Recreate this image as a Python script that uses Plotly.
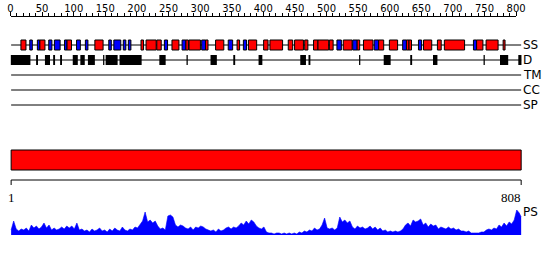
import plotly.graph_objects as go

SEQ_LEN = 808

# Secondary structure segments (H = helix red, E = strand blue)
ss_start = [17, 31, 43, 47, 61, 70, 86, 90, 105, 119, 134, 156, 164, 179, 187,
            207, 215, 232, 244, 256, 272, 278, 283, 303, 309, 325, 345, 359, 369, 377,
            401, 411, 440, 450, 466, 480, 487, 505, 517, 527, 542, 549, 559, 576, 583,
            600, 621, 627, 631, 646, 654, 676, 687, 733, 738, 753, 780]
ss_end = [24, 34, 46, 54, 65, 78, 89, 96, 110, 122, 146, 159, 174, 182, 190,
          210, 230, 238, 248, 266, 277, 281, 300, 308, 312, 337, 351, 362, 373, 389,
          407, 430, 446, 463, 470, 486, 503, 510, 523, 540, 548, 552, 573, 582, 590,
          612, 626, 630, 634, 650, 666, 681, 718, 737, 747, 771, 782]
ss_type = ["H", "E", "E", "H", "E", "E", "E", "H", "E", "E", "H", "E", "E", "E", "E",
           "H", "H", "H", "E", "H", "E", "H", "H", "E", "H", "H", "E", "H", "E", "H",
           "H", "H", "H", "H", "H", "H", "H", "H", "E", "H", "E", "H", "H", "E", "H",
           "H", "E", "H", "H", "E", "H", "H", "H", "E", "H", "H", "H"]

# Disordered segments
dis_start = [1, 41, 55, 68, 79, 99, 111, 123, 147, 151, 173, 236, 279, 317, 353,
             393, 459, 472, 552, 591, 633, 669, 749, 775, 804]
dis_end = [31, 43, 62, 70, 81, 106, 117, 133, 148, 169, 207, 245, 280, 326, 355,
           398, 467, 474, 553, 601, 635, 675, 750, 787, 808]

track_labels = ["SS", "D", "TM", "CC", "SP"]

# PS profile, sampled every 4 residues (1..805) plus the last residue
ps_val = [
    5, 14, 6, 4, 6, 5, 7, 4,
    10, 7, 9, 6, 8, 12, 7, 10,
    5, 7, 5, 6, 8, 6, 9, 7, 9, 6, 12, 5,
    6, 4, 5, 3, 6, 4, 5, 7, 4, 5, 3, 6, 4, 7, 5, 4, 8, 5, 4,
    6, 5, 8, 7, 11, 14, 23, 13, 15, 12, 14, 9, 6,
    7, 5, 19, 20, 18, 10, 8, 10, 9, 7, 6, 8,
    5, 8, 7, 9, 8, 6, 5, 4, 5, 3, 6, 4, 5, 7,
    8, 6, 8, 7, 9, 12, 10, 14, 11, 15, 13, 9, 7, 6, 8,
    3, 2, 2, 1, 2, 2, 1, 2, 1, 2, 1, 2, 1, 3, 2,
    4, 3, 5, 4, 7, 5, 6, 10, 17, 7, 6, 7, 5,
    7, 18, 13, 15, 12, 14, 8, 6, 9, 7, 8, 6,
    7, 9, 6, 8, 5, 7, 4, 5, 3, 4, 3, 4, 3, 4, 6,
    10, 12, 9, 15, 13, 14, 16, 10, 12, 8, 11, 9, 10, 6, 8, 7, 6,
    8, 6, 7, 5, 6, 4, 4, 3, 4, 2, 2, 2, 2, 3,
    3, 5, 6, 5, 7, 6, 10, 8, 12, 9, 13, 11, 15, 25, 22,
    18,
]
ps_pos = list(range(1, 806, 4)) + [SEQ_LEN]

ruler_max = 800

# ---- layout geometry ----
W, H = 550, 260
X0_PX, PX_PER_RES = 10.5, 0.632
xr = [-X0_PX / PX_PER_RES, (W - X0_PX) / PX_PER_RES]
row_y = {"SS": 45, "D": 60, "TM": 75, "CC": 90, "SP": 105}
ss_col = {"H": "#ff0000", "E": "#0000ff"}

fig = go.Figure()
fig.add_trace(go.Scatter(x=ps_pos, y=ps_val, mode="lines", fill="tozeroy",
                         line=dict(color="#0000ff", width=0.6), fillcolor="#0000ff",
                         xaxis="x", yaxis="y2", hoverinfo="skip", showlegend=False))
fig.add_trace(go.Scatter(x=[0, ruler_max], y=[-50, -50], mode="markers",
                         marker=dict(opacity=0), xaxis="x2", yaxis="y",
                         hoverinfo="skip", showlegend=False))

shapes = []
for lab in track_labels:
    shapes.append(dict(type="line", xref="x", yref="y", x0=1, x1=SEQ_LEN,
                       y0=row_y[lab], y1=row_y[lab], line=dict(color="black", width=1)))
for s, e, t in zip(ss_start, ss_end, ss_type):
    shapes.append(dict(type="rect", xref="x", yref="y", x0=s - 0.5, x1=e + 0.5,
                       y0=row_y["SS"] - 5, y1=row_y["SS"] + 5,
                       fillcolor=ss_col[t], line=dict(color="black", width=1)))
for s, e in zip(dis_start, dis_end):
    shapes.append(dict(type="rect", xref="x", yref="y", x0=s - 0.5, x1=e + 0.5,
                       y0=row_y["D"] - 5, y1=row_y["D"] + 5,
                       fillcolor="black", line=dict(color="black", width=0)))
shapes.append(dict(type="rect", xref="x", yref="y", x0=1, x1=SEQ_LEN, y0=150, y1=170,
                   fillcolor="#ff0000", line=dict(color="black", width=1)))
shapes.append(dict(type="line", xref="x", yref="y", x0=1, x1=SEQ_LEN, y0=180, y1=180,
                   line=dict(color="black", width=1)))
for xv in (1, SEQ_LEN):
    shapes.append(dict(type="line", xref="x", yref="y", x0=xv, x1=xv, y0=180, y1=185,
                       line=dict(color="black", width=1)))

annotations = []
for lab in track_labels:
    annotations.append(dict(x=SEQ_LEN, y=row_y[lab], xref="x", yref="y", text=lab,
                            showarrow=False, xanchor="left", yanchor="middle", xshift=0,
                            font=dict(family="DejaVu Sans", size=12, color="black")))
annotations.append(dict(x=SEQ_LEN, y=212, xref="x", yref="y", text="PS", showarrow=False,
                        xanchor="left", yanchor="middle", xshift=0,
                        font=dict(family="DejaVu Sans", size=12, color="black")))
annotations.append(dict(x=1, y=197, xref="x", yref="y", text="1", showarrow=False,
                        xanchor="center", yanchor="middle",
                        font=dict(family="Liberation Serif", size=13, color="black")))
annotations.append(dict(x=SEQ_LEN, y=197, xref="x", yref="y", text=str(SEQ_LEN),
                        showarrow=False, xanchor="right", yanchor="middle", xshift=2,
                        font=dict(family="Liberation Serif", size=13, color="black")))

fig.update_layout(
    width=W, height=H, autosize=False,
    margin=dict(l=0, r=0, t=0, b=0, pad=0, autoexpand=False),
    paper_bgcolor="white", plot_bgcolor="rgba(0,0,0,0)",
    xaxis=dict(domain=[0, 1], range=xr, visible=False, fixedrange=True, automargin=False),
    yaxis=dict(domain=[0, 1], range=[H, 0], visible=False, fixedrange=True, automargin=False),
    yaxis2=dict(domain=[25 / H, 55 / H], range=[0, 30], visible=False, anchor="x",
                automargin=False),
    xaxis2=dict(domain=[X0_PX / W, (X0_PX + PX_PER_RES * ruler_max) / W],
                range=[0, ruler_max], anchor="free", position=1 - 16 / H, side="top",
                automargin=False,
                showline=True, linecolor="black", linewidth=1,
                ticks="outside", ticklen=4, tickwidth=1, tickcolor="black",
                tick0=0, dtick=50, showgrid=False, zeroline=False, ticklabelstandoff=-4,
                minor=dict(dtick=10, ticks="outside", ticklen=3, tickcolor="black", tickwidth=1),
                tickfont=dict(family="DejaVu Sans", size=10, color="black")),
    shapes=shapes, annotations=annotations, showlegend=False,
)

fig.write_html("out.html")
